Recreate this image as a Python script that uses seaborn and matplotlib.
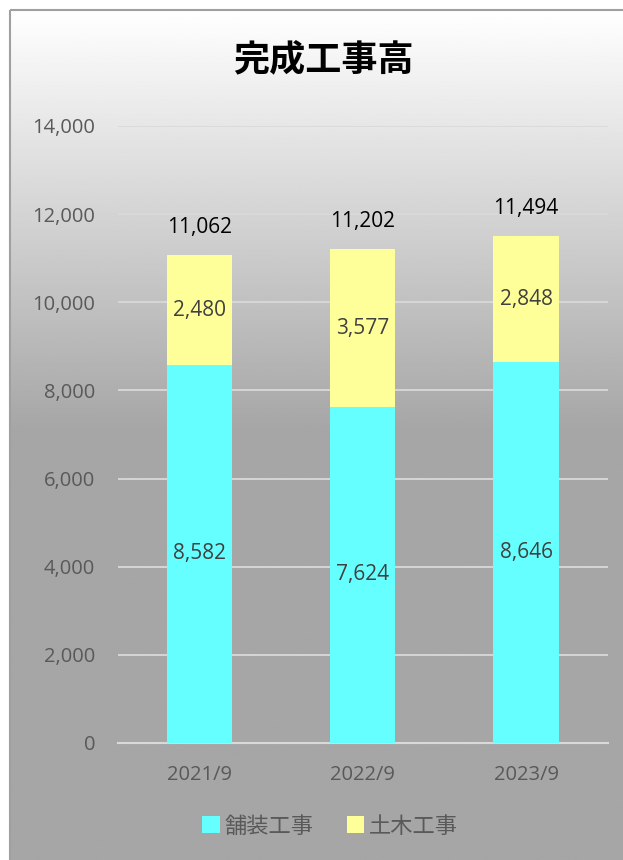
import numpy as np
import pandas as pd
import matplotlib
matplotlib.use("Agg")
import matplotlib.pyplot as plt
import seaborn as sns
from matplotlib.patches import Rectangle, Patch
from matplotlib.ticker import FuncFormatter

# --- data -------------------------------------------------------------
periods = ["2021/9", "2022/9", "2023/9"]
paving = [8582, 7624, 8646]          # 舗装工事
civil = [2480, 3577, 2848]           # 土木工事
totals = [11062, 11202, 11494]       # 合計
series_names = ["舗装工事", "土木工事"]
title_text = "完成工事高"
y_ticks = [0, 2000, 4000, 6000, 8000, 10000, 12000, 14000]

PAVING_COLOR = "#66FFFF"
CIVIL_COLOR = "#FFFF99"
TEXT_GREY = "#595959"

sns.set_theme(style="white")
plt.rcParams["font.family"] = ["Open Sans", "Noto Sans CJK JP", "DejaVu Sans"]

W, H = 623, 860
fig = plt.figure(figsize=(W / 100, H / 100), dpi=100)
fig.patch.set_facecolor("white")

# --- chart-area background: white-to-grey vertical gradient with a frame
bg = fig.add_axes([0, 0, 1, 1], zorder=-10)
bg.set_xlim(0, W)
bg.set_ylim(H, 0)
bg.axis("off")
yy = np.linspace(10, H + 5, 600)
frac = np.clip((yy - 10) / (430 - 10), 0, 1)
shade = 1.0 - frac * (1 - 0xA6 / 255)
bg.imshow(np.repeat(shade[:, None], 2, axis=1), extent=[10, W + 5, H + 5, 10],
          cmap="gray", vmin=0, vmax=1, aspect="auto", interpolation="bilinear")
bg.add_patch(Rectangle((10, 10), W + 20, H + 20, fill=False,
                       edgecolor="#A0A0A0", lw=1.5))

# --- plot area ---------------------------------------------------------
left, right, top, bottom = 117.5, 607.75, 126, 743
ax = fig.add_axes([left / W, 1 - bottom / H, (right - left) / W, (bottom - top) / H])
ax.patch.set_alpha(0)

df = pd.DataFrame({"period": periods,
                   "paving": paving,
                   "stack": np.add(paving, civil)})

# upper segment drawn as the full stack, lower segment drawn over it
sns.barplot(data=df, x="period", y="stack", color=CIVIL_COLOR, width=0.4,
            saturation=1, ax=ax, zorder=2, linewidth=0, edgecolor="none")
sns.barplot(data=df, x="period", y="paving", color=PAVING_COLOR, width=0.4,
            saturation=1, ax=ax, zorder=3, linewidth=0, edgecolor="none")

ax.set_ylim(0, 14000)
ax.set_xlim(-0.5, 2.5)
ax.set_yticks(y_ticks)
ax.yaxis.set_major_formatter(FuncFormatter(lambda v, p: f"{v:,.0f}"))
ax.set_xlabel("")
ax.set_ylabel("")
ax.yaxis.grid(True, color="#D9D9D9", lw=1.3, zorder=0)
ax.set_axisbelow(True)
for s in ["left", "right", "top"]:
    ax.spines[s].set_visible(False)
ax.spines["bottom"].set_color("#D9D9D9")
ax.spines["bottom"].set_linewidth(1.5)
ax.tick_params(axis="y", length=0, pad=16, labelsize=14.5, labelcolor=TEXT_GREY)
ax.tick_params(axis="x", length=0, pad=16, labelsize=14.5, labelcolor=TEXT_GREY)

# segment value labels
for i in range(len(periods)):
    ax.text(i, paving[i] / 2, f"{paving[i]:,}", ha="center", va="center",
            fontsize=15, color="#404040", zorder=5)
    ax.text(i, paving[i] + civil[i] / 2, f"{civil[i]:,}", ha="center", va="center",
            fontsize=15, color="#404040", zorder=5)
    ax.annotate(f"{totals[i]:,}", (i, totals[i]), xytext=(0, 28),
                textcoords="offset pixels", ha="center", va="center",
                fontsize=15, color="black", zorder=5)

# title
fig.text(323.5 / W, 1 - 60 / H, title_text, ha="center", va="center",
         fontsize=26, fontweight="bold", color="black",
         family=["Noto Sans CJK JP", "DejaVu Sans"])

# legend
handles = [Patch(facecolor=PAVING_COLOR, edgecolor="none"),
           Patch(facecolor=CIVIL_COLOR, edgecolor="none")]
leg = fig.legend(handles, series_names, loc="center",
                 bbox_to_anchor=(330 / W, 1 - 827 / H), ncol=2, frameon=False,
                 fontsize=16, handlelength=0.8, handleheight=0.8,
                 handletextpad=0.2, columnspacing=1.5)
for t in leg.get_texts():
    t.set_color(TEXT_GREY)

fig.savefig("out.png", dpi=100)
